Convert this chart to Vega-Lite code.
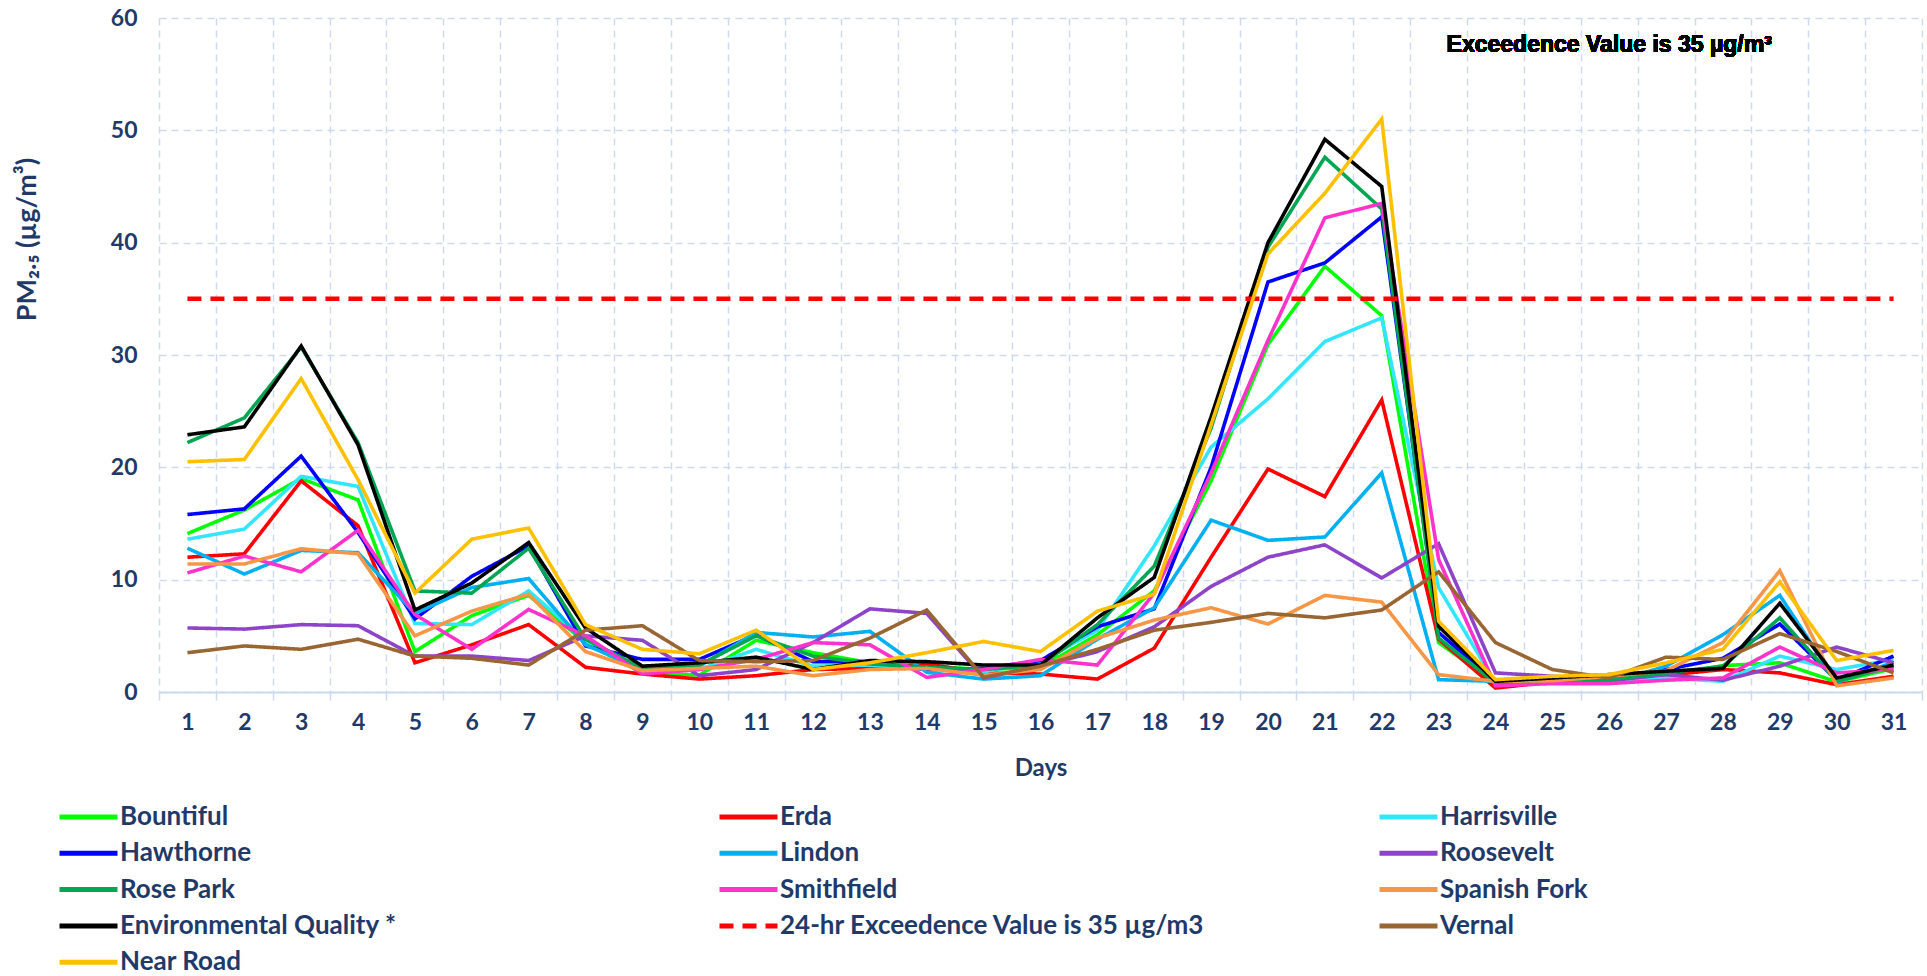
{
  "$schema": "https://vega.github.io/schema/vega-lite/v6.json",
  "width": 1763,
  "height": 674,
  "autosize": "none",
  "padding": {"left": 159, "top": 18, "right": 5, "bottom": 284},
  "background": "white",
  "config": {
    "view": {"stroke": null},
    "font": "Lato",
    "axis": {"labelFont": "Lato", "titleFont": "Lato"}
  },
  "data": {
    "values": [
      {"day": 1, "Bountiful": 14.1, "Erda": 12.0, "Harrisville": 13.6, "Hawthorne": 15.8, "Lindon": 12.8, "Roosevelt": 5.7, "Rose Park": 22.2, "Smithfield": 10.6, "Spanish Fork": 11.4, "Environmental Quality *": 22.9, "24-hr Exceedence Value is 35 µg/m3": 35, "Vernal": 3.5, "Near Road": 20.5},
      {"day": 2, "Bountiful": 16.2, "Erda": 12.3, "Harrisville": 14.5, "Hawthorne": 16.3, "Lindon": 10.5, "Roosevelt": 5.6, "Rose Park": 24.4, "Smithfield": 12.1, "Spanish Fork": 11.4, "Environmental Quality *": 23.6, "24-hr Exceedence Value is 35 µg/m3": 35, "Vernal": 4.1, "Near Road": 20.7},
      {"day": 3, "Bountiful": 19.0, "Erda": 18.8, "Harrisville": 19.2, "Hawthorne": 21.0, "Lindon": 12.6, "Roosevelt": 6.0, "Rose Park": 30.7, "Smithfield": 10.7, "Spanish Fork": 12.75, "Environmental Quality *": 30.8, "24-hr Exceedence Value is 35 µg/m3": 35, "Vernal": 3.8, "Near Road": 27.9},
      {"day": 4, "Bountiful": 17.1, "Erda": 14.8, "Harrisville": 18.3, "Hawthorne": 14.2, "Lindon": 12.4, "Roosevelt": 5.9, "Rose Park": 22.2, "Smithfield": 14.4, "Spanish Fork": 12.3, "Environmental Quality *": 22.0, "24-hr Exceedence Value is 35 µg/m3": 35, "Vernal": 4.7, "Near Road": 18.9},
      {"day": 5, "Bountiful": 3.6, "Erda": 2.6, "Harrisville": 6.1, "Hawthorne": 6.5, "Lindon": 7.0, "Roosevelt": 3.2, "Rose Park": 9.0, "Smithfield": 6.9, "Spanish Fork": 5.0, "Environmental Quality *": 7.3, "24-hr Exceedence Value is 35 µg/m3": 35, "Vernal": 3.2, "Near Road": 8.8},
      {"day": 6, "Bountiful": 6.8, "Erda": 4.2, "Harrisville": 6.0, "Hawthorne": 10.3, "Lindon": 9.3, "Roosevelt": 3.2, "Rose Park": 8.8, "Smithfield": 3.8, "Spanish Fork": 7.2, "Environmental Quality *": 9.7, "24-hr Exceedence Value is 35 µg/m3": 35, "Vernal": 3.0, "Near Road": 13.6},
      {"day": 7, "Bountiful": 8.6, "Erda": 6.0, "Harrisville": 9.0, "Hawthorne": 13.0, "Lindon": 10.1, "Roosevelt": 2.8, "Rose Park": 12.8, "Smithfield": 7.35, "Spanish Fork": 8.7, "Environmental Quality *": 13.3, "24-hr Exceedence Value is 35 µg/m3": 35, "Vernal": 2.4, "Near Road": 14.6},
      {"day": 8, "Bountiful": 4.4, "Erda": 2.2, "Harrisville": 4.6, "Hawthorne": 4.1, "Lindon": 4.2, "Roosevelt": 5.0, "Rose Park": 4.7, "Smithfield": 5.0, "Spanish Fork": 3.6, "Environmental Quality *": 5.7, "24-hr Exceedence Value is 35 µg/m3": 35, "Vernal": 5.5, "Near Road": 6.0},
      {"day": 9, "Bountiful": 1.7, "Erda": 1.6, "Harrisville": 2.0, "Hawthorne": 2.9, "Lindon": 2.0, "Roosevelt": 4.6, "Rose Park": 2.1, "Smithfield": 1.6, "Spanish Fork": 1.9, "Environmental Quality *": 2.3, "24-hr Exceedence Value is 35 µg/m3": 35, "Vernal": 5.9, "Near Road": 3.8},
      {"day": 10, "Bountiful": 1.5, "Erda": 1.15, "Harrisville": 2.0, "Hawthorne": 2.9, "Lindon": 2.3, "Roosevelt": 1.45, "Rose Park": 2.4, "Smithfield": 2.0, "Spanish Fork": 2.1, "Environmental Quality *": 2.6, "24-hr Exceedence Value is 35 µg/m3": 35, "Vernal": 2.8, "Near Road": 3.4},
      {"day": 11, "Bountiful": 4.6, "Erda": 1.45, "Harrisville": 3.8, "Hawthorne": 5.1, "Lindon": 5.3, "Roosevelt": 2.0, "Rose Park": 5.0, "Smithfield": 2.9, "Spanish Fork": 2.3, "Environmental Quality *": 3.1, "24-hr Exceedence Value is 35 µg/m3": 35, "Vernal": 2.7, "Near Road": 5.5},
      {"day": 12, "Bountiful": 3.5, "Erda": 2.0, "Harrisville": 2.3, "Hawthorne": 2.7, "Lindon": 4.9, "Roosevelt": 4.4, "Rose Park": 3.2, "Smithfield": 4.4, "Spanish Fork": 1.45, "Environmental Quality *": 2.0, "24-hr Exceedence Value is 35 µg/m3": 35, "Vernal": 2.8, "Near Road": 2.0},
      {"day": 13, "Bountiful": 2.6, "Erda": 2.1, "Harrisville": 2.4, "Hawthorne": 2.7, "Lindon": 5.4, "Roosevelt": 7.4, "Rose Park": 2.5, "Smithfield": 4.2, "Spanish Fork": 2.0, "Environmental Quality *": 2.8, "24-hr Exceedence Value is 35 µg/m3": 35, "Vernal": 4.8, "Near Road": 2.6},
      {"day": 14, "Bountiful": 2.3, "Erda": 2.5, "Harrisville": 2.0, "Hawthorne": 2.0, "Lindon": 1.75, "Roosevelt": 7.0, "Rose Park": 2.2, "Smithfield": 1.3, "Spanish Fork": 2.1, "Environmental Quality *": 2.7, "24-hr Exceedence Value is 35 µg/m3": 35, "Vernal": 7.3, "Near Road": 3.5},
      {"day": 15, "Bountiful": 2.0, "Erda": 1.7, "Harrisville": 1.8, "Hawthorne": 2.1, "Lindon": 1.15, "Roosevelt": 1.25, "Rose Park": 2.0, "Smithfield": 2.0, "Spanish Fork": 1.5, "Environmental Quality *": 2.4, "24-hr Exceedence Value is 35 µg/m3": 35, "Vernal": 1.3, "Near Road": 4.5},
      {"day": 16, "Bountiful": 2.2, "Erda": 1.6, "Harrisville": 2.7, "Hawthorne": 2.8, "Lindon": 1.45, "Roosevelt": 2.3, "Rose Park": 2.4, "Smithfield": 2.9, "Spanish Fork": 2.0, "Environmental Quality *": 2.4, "24-hr Exceedence Value is 35 µg/m3": 35, "Vernal": 2.3, "Near Road": 3.6},
      {"day": 17, "Bountiful": 5.1, "Erda": 1.15, "Harrisville": 5.5, "Hawthorne": 5.8, "Lindon": 4.7, "Roosevelt": 3.6, "Rose Park": 6.0, "Smithfield": 2.4, "Spanish Fork": 4.8, "Environmental Quality *": 6.6, "24-hr Exceedence Value is 35 µg/m3": 35, "Vernal": 3.8, "Near Road": 7.2},
      {"day": 18, "Bountiful": 9.0, "Erda": 3.9, "Harrisville": 13.0, "Hawthorne": 7.4, "Lindon": 7.5, "Roosevelt": 5.8, "Rose Park": 11.2, "Smithfield": 8.8, "Spanish Fork": 6.4, "Environmental Quality *": 10.2, "24-hr Exceedence Value is 35 µg/m3": 35, "Vernal": 5.5, "Near Road": 8.7},
      {"day": 19, "Bountiful": 18.8, "Erda": 12.0, "Harrisville": 21.8, "Hawthorne": 20.0, "Lindon": 15.3, "Roosevelt": 9.4, "Rose Park": 23.5, "Smithfield": 19.5, "Spanish Fork": 7.5, "Environmental Quality *": 24.5, "24-hr Exceedence Value is 35 µg/m3": 35, "Vernal": 6.2, "Near Road": 23.8},
      {"day": 20, "Bountiful": 30.95, "Erda": 19.85, "Harrisville": 26.1, "Hawthorne": 36.5, "Lindon": 13.5, "Roosevelt": 12.0, "Rose Park": 39.6, "Smithfield": 31.3, "Spanish Fork": 6.05, "Environmental Quality *": 40.0, "24-hr Exceedence Value is 35 µg/m3": 35, "Vernal": 7.0, "Near Road": 39.0},
      {"day": 21, "Bountiful": 37.9, "Erda": 17.4, "Harrisville": 31.2, "Hawthorne": 38.2, "Lindon": 13.8, "Roosevelt": 13.1, "Rose Park": 47.6, "Smithfield": 42.2, "Spanish Fork": 8.6, "Environmental Quality *": 49.2, "24-hr Exceedence Value is 35 µg/m3": 35, "Vernal": 6.6, "Near Road": 44.4},
      {"day": 22, "Bountiful": 33.5, "Erda": 26.0, "Harrisville": 33.3, "Hawthorne": 42.3, "Lindon": 19.5, "Roosevelt": 10.15, "Rose Park": 43.0, "Smithfield": 43.5, "Spanish Fork": 8.0, "Environmental Quality *": 45.0, "24-hr Exceedence Value is 35 µg/m3": 35, "Vernal": 7.3, "Near Road": 51.0},
      {"day": 23, "Bountiful": 4.4, "Erda": 4.7, "Harrisville": 9.3, "Hawthorne": 5.3, "Lindon": 1.1, "Roosevelt": 13.2, "Rose Park": 4.8, "Smithfield": 11.8, "Spanish Fork": 1.55, "Environmental Quality *": 5.85, "24-hr Exceedence Value is 35 µg/m3": 35, "Vernal": 10.7, "Near Road": 6.3},
      {"day": 24, "Bountiful": 0.8, "Erda": 0.35, "Harrisville": 0.8, "Hawthorne": 0.9, "Lindon": 0.95, "Roosevelt": 1.7, "Rose Park": 0.8, "Smithfield": 0.55, "Spanish Fork": 0.95, "Environmental Quality *": 0.95, "24-hr Exceedence Value is 35 µg/m3": 35, "Vernal": 4.4, "Near Road": 1.1},
      {"day": 25, "Bountiful": 0.95, "Erda": 0.9, "Harrisville": 0.95, "Hawthorne": 1.0, "Lindon": 0.8, "Roosevelt": 1.4, "Rose Park": 1.0, "Smithfield": 0.75, "Spanish Fork": 1.0, "Environmental Quality *": 1.25, "24-hr Exceedence Value is 35 µg/m3": 35, "Vernal": 2.0, "Near Road": 1.4},
      {"day": 26, "Bountiful": 1.0, "Erda": 0.85, "Harrisville": 1.0, "Hawthorne": 1.1, "Lindon": 0.8, "Roosevelt": 1.0, "Rose Park": 1.1, "Smithfield": 0.75, "Spanish Fork": 1.4, "Environmental Quality *": 1.55, "24-hr Exceedence Value is 35 µg/m3": 35, "Vernal": 1.25, "Near Road": 1.55},
      {"day": 27, "Bountiful": 1.4, "Erda": 1.5, "Harrisville": 1.25, "Hawthorne": 2.0, "Lindon": 2.3, "Roosevelt": 1.55, "Rose Park": 1.7, "Smithfield": 1.05, "Spanish Fork": 1.9, "Environmental Quality *": 1.85, "24-hr Exceedence Value is 35 µg/m3": 35, "Vernal": 3.1, "Near Road": 2.6},
      {"day": 28, "Bountiful": 2.35, "Erda": 2.0, "Harrisville": 0.95, "Hawthorne": 3.0, "Lindon": 5.1, "Roosevelt": 1.05, "Rose Park": 2.3, "Smithfield": 1.25, "Spanish Fork": 4.4, "Environmental Quality *": 2.1, "24-hr Exceedence Value is 35 µg/m3": 35, "Vernal": 2.9, "Near Road": 3.8},
      {"day": 29, "Bountiful": 2.6, "Erda": 1.7, "Harrisville": 3.2, "Hawthorne": 6.05, "Lindon": 8.6, "Roosevelt": 2.3, "Rose Park": 6.6, "Smithfield": 4.0, "Spanish Fork": 10.8, "Environmental Quality *": 7.9, "24-hr Exceedence Value is 35 µg/m3": 35, "Vernal": 5.2, "Near Road": 9.8},
      {"day": 30, "Bountiful": 0.9, "Erda": 0.65, "Harrisville": 2.0, "Hawthorne": 1.05, "Lindon": 0.85, "Roosevelt": 4.0, "Rose Park": 0.95, "Smithfield": 1.7, "Spanish Fork": 0.55, "Environmental Quality *": 1.25, "24-hr Exceedence Value is 35 µg/m3": 35, "Vernal": 3.6, "Near Road": 2.8},
      {"day": 31, "Bountiful": 2.1, "Erda": 1.4, "Harrisville": 2.9, "Hawthorne": 3.2, "Lindon": 2.65, "Roosevelt": 2.6, "Rose Park": 2.3, "Smithfield": 2.0, "Spanish Fork": 1.25, "Environmental Quality *": 2.4, "24-hr Exceedence Value is 35 µg/m3": 35, "Vernal": 1.7, "Near Road": 3.7}
    ]
  },
  "transform": [
    {"fold": ["Bountiful", "Erda", "Harrisville", "Hawthorne", "Lindon", "Roosevelt", "Rose Park", "Smithfield", "Spanish Fork", "Environmental Quality *", "24-hr Exceedence Value is 35 µg/m3", "Vernal", "Near Road"], "as": ["series", "value"]}
  ],
  "resolve": {"axis": {"x": "independent"}},
  "layer": [
    {
      "mark": {"type": "line", "strokeJoin": "miter", "strokeCap": "butt"},
      "encoding": {
        "x": {
          "field": "day", "type": "quantitative",
          "scale": {"domain": [0.5, 31.5], "nice": false, "zero": false},
          "axis": {
            "orient": "bottom",
            "values": [0.5, 1.5, 2.5, 3.5, 4.5, 5.5, 6.5, 7.5, 8.5, 9.5, 10.5, 11.5, 12.5, 13.5, 14.5, 15.5, 16.5, 17.5, 18.5, 19.5, 20.5, 21.5, 22.5, 23.5, 24.5, 25.5, 26.5, 27.5, 28.5, 29.5, 30.5, 31.5],
            "labels": false, "title": null, "domain": false,
            "ticks": true, "tickSize": 8, "tickColor": "#CDD9EE", "tickWidth": 1.5,
            "grid": true, "gridColor": "#CDD9EE", "gridDash": [7, 5], "gridWidth": 1.5
          }
        },
        "y": {
          "field": "value", "type": "quantitative",
          "scale": {"domain": [0, 60], "nice": false},
          "axis": {
            "values": [0, 10, 20, 30, 40, 50, 60],
            "grid": true, "gridColor": "#CDD9EE", "gridDash": [7, 5], "gridWidth": 1.5,
            "domain": false, "ticks": false,
            "labelFont": "Lato", "labelFontWeight": "bold", "labelFontSize": 23, "labelColor": "#1F3A68", "labelPadding": 22,
            "title": "PM₂.₅ (µg/m³)",
            "titleFont": "Lato", "titleFontWeight": "bold", "titleFontSize": 27, "titleColor": "#1F3A68",
            "titleX": -132, "titleY": 221, "titleAngle": -90, "titleBaseline": "middle", "titleAlign": "center"
          }
        },
        "color": {
          "field": "series", "type": "nominal",
          "scale": {
            "domain": ["Bountiful", "Erda", "Harrisville", "Hawthorne", "Lindon", "Roosevelt", "Rose Park", "Smithfield", "Spanish Fork", "Environmental Quality *", "24-hr Exceedence Value is 35 µg/m3", "Vernal", "Near Road"],
            "range": ["#00FF00", "#FF0000", "#33E6FF", "#0000FF", "#00B0F0", "#8E44C8", "#00A651", "#FF33CC", "#F79646", "#000000", "#FF0000", "#996633", "#FFC000"]
          },
          "legend": {
            "orient": "none", "legendX": -102, "legendY": 783,
            "direction": "horizontal", "columns": 3, "gridAlign": "all",
            "columnPadding": 172, "rowPadding": 4.3, "clipHeight": 32,
            "title": null,
            "symbolType": "stroke", "symbolSize": 3364, "symbolStrokeWidth": 5,
            "labelFont": "Lato", "labelFontWeight": "bold", "labelFontSize": 26, "labelColor": "#1F3A68", "labelOffset": 0, "labelLimit": 600
          }
        },
        "strokeDash": {
          "field": "series", "type": "nominal",
          "scale": {
            "domain": ["Bountiful", "Erda", "Harrisville", "Hawthorne", "Lindon", "Roosevelt", "Rose Park", "Smithfield", "Spanish Fork", "Environmental Quality *", "24-hr Exceedence Value is 35 µg/m3", "Vernal", "Near Road"],
            "range": [[1, 0], [1, 0], [1, 0], [1, 0], [1, 0], [1, 0], [1, 0], [1, 0], [1, 0], [1, 0], [14, 9], [1, 0], [1, 0]]
          },
          "legend": {
            "orient": "none", "legendX": -102, "legendY": 783,
            "direction": "horizontal", "columns": 3, "gridAlign": "all",
            "columnPadding": 172, "rowPadding": 4.3, "clipHeight": 32,
            "title": null,
            "symbolType": "stroke", "symbolSize": 3364, "symbolStrokeWidth": 5,
            "labelFont": "Lato", "labelFontWeight": "bold", "labelFontSize": 26, "labelColor": "#1F3A68", "labelOffset": 0, "labelLimit": 600
          }
        },
        "strokeWidth": {
          "condition": {"test": "datum.series === '24-hr Exceedence Value is 35 µg/m3'", "value": 4.5},
          "value": 3.6
        }
      }
    },
    {
      "mark": {"type": "text", "font": "Liberation Sans", "fontWeight": "bold", "fontSize": 23, "color": "#000000", "align": "center", "baseline": "middle"},
      "encoding": {
        "x": {
          "datum": 26.0, "type": "quantitative",
          "axis": {
            "orient": "bottom",
            "values": [1, 2, 3, 4, 5, 6, 7, 8, 9, 10, 11, 12, 13, 14, 15, 16, 17, 18, 19, 20, 21, 22, 23, 24, 25, 26, 27, 28, 29, 30, 31],
            "format": "d", "grid": false, "ticks": false,
            "domain": true, "domainColor": "#CDD9EE", "domainWidth": 2,
            "labelFont": "Lato", "labelFontWeight": "bold", "labelFontSize": 23, "labelColor": "#1F3A68", "labelPadding": 19,
            "title": "Days", "titleFont": "Lato", "titleFontWeight": "bold", "titleFontSize": 24, "titleColor": "#1F3A68",
            "titleY": 76, "titleBaseline": "middle"
          }
        },
        "y": {"datum": 57.6, "type": "quantitative"},
        "text": {"value": "Exceedence Value is 35 µg/m³"}
      }
    }
  ]
}
